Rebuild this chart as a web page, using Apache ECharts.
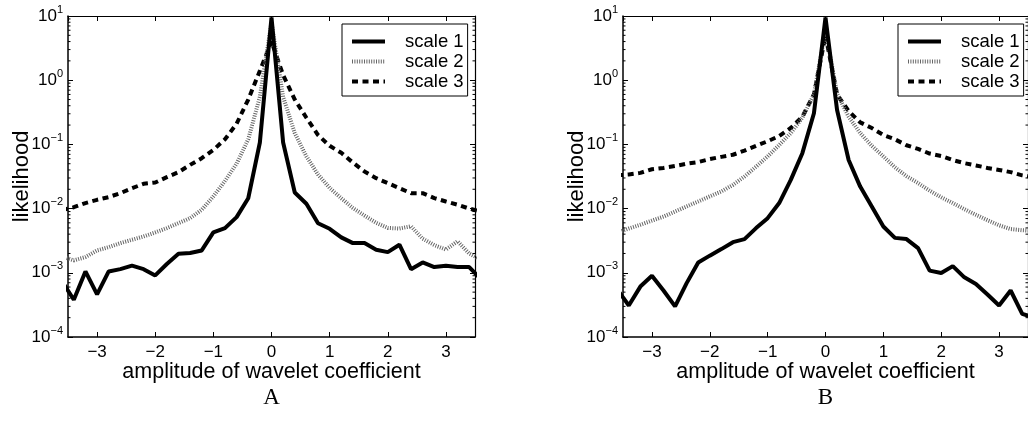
<!DOCTYPE html>
<html><head><meta charset="utf-8">
<script src="https://cdn.jsdelivr.net/npm/echarts@6/dist/echarts.min.js"></script>
<style>html,body{margin:0;padding:0;background:#fff}#c{width:1028px;height:421px}</style>
</head><body><div id="c"></div>
<script>
// ---- data ----
const xs = [-3.6,-3.4,-3.2,-3.0,-2.8,-2.6,-2.4,-2.2,-2.0,-1.8,-1.6,-1.4,-1.2,-1.0,-0.8,-0.6,-0.4,-0.2,0,
            0.2,0.4,0.6,0.8,1.0,1.2,1.4,1.6,1.8,2.0,2.2,2.4,2.6,2.8,3.0,3.2,3.4,3.6];
const seriesNames = ['scale 1','scale 2','scale 3'];
const panelLabels = ['A','B'];
const xAxisTitle = 'amplitude of wavelet coefficient';
const yAxisTitle = 'likelihood';

const aScale1 = [7.3e-4,3.8e-4,1.05e-3,4.6e-4,1.05e-3,1.14e-3,1.29e-3,1.14e-3,9.1e-4,1.37e-3,1.98e-3,2.03e-3,2.23e-3,4.26e-3,4.97e-3,7.37e-3,1.45e-2,0.107,9.5,
                 0.107,0.0178,0.0119,5.9e-3,4.85e-3,3.56e-3,2.9e-3,2.9e-3,2.29e-3,2.1e-3,2.74e-3,1.14e-3,1.45e-3,1.23e-3,1.29e-3,1.23e-3,1.23e-3,8.0e-4];
const aScale2 = [1.8e-3,1.56e-3,1.76e-3,2.23e-3,2.51e-3,2.9e-3,3.27e-3,3.68e-3,4.25e-3,4.97e-3,5.94e-3,7.1e-3,9.6e-3,0.0155,0.027,0.05,0.12,0.55,8.0,
                 0.55,0.15,0.065,0.034,0.021,0.0145,0.0102,0.0078,6.0e-3,5.0e-3,4.9e-3,5.3e-3,3.4e-3,2.7e-3,2.3e-3,3.1e-3,2.0e-3,1.6e-3];
const aScale3 = [9.5e-3,0.0105,0.0122,0.0137,0.0151,0.0174,0.0208,0.0243,0.0255,0.0309,0.0369,0.048,0.061,0.082,0.12,0.21,0.5,1.4,4.0,
                 1.2,0.5,0.26,0.14,0.095,0.074,0.052,0.0378,0.0298,0.0249,0.0208,0.0174,0.0174,0.0146,0.0129,0.0115,0.0100,0.0090];

const bScale1 = [5.5e-4,3.1e-4,6.1e-4,9.0e-4,5.3e-4,3.0e-4,6.9e-4,1.45e-3,1.85e-3,2.34e-3,3.0e-3,3.35e-3,4.97e-3,7.1e-3,0.0122,0.028,0.073,0.305,9.5,
                 0.344,0.057,0.022,0.0108,5.27e-3,3.5e-3,3.35e-3,2.43e-3,1.08e-3,9.9e-4,1.27e-3,8.5e-4,6.7e-4,4.6e-4,3.1e-4,5.3e-4,2.3e-4,2.0e-4];
const bScale2 = [4.2e-3,4.9e-3,5.6e-3,6.5e-3,7.5e-3,9.0e-3,0.0108,0.0129,0.0155,0.0185,0.0234,0.0316,0.045,0.065,0.098,0.15,0.26,0.6,6.0,
                 0.62,0.27,0.15,0.095,0.065,0.044,0.032,0.025,0.019,0.015,0.0122,0.0098,0.008,0.0066,0.0055,0.0048,0.0046,0.0045];
const bScale3 = [0.033,0.034,0.036,0.041,0.043,0.046,0.050,0.053,0.059,0.064,0.069,0.080,0.095,0.112,0.135,0.18,0.27,0.6,5.0,
                 0.6,0.33,0.22,0.18,0.14,0.12,0.097,0.085,0.072,0.066,0.057,0.051,0.047,0.043,0.040,0.037,0.033,0.031];

const xMin = -3.5, xMax = 3.5;
const yMin = 1e-4, yMax = 10;

// ---- styles / layout ----
const FONT = '"Liberation Sans", Arial, Helvetica, sans-serif';
const lineStyles = [
  {color:'#000', width:4, type:'solid'},
  {color:'#666', width:4, type:[1,1.4]},
  {color:'#000', width:4, type:[6,4.5]}
];
const gridPos = [{left:68, top:16, width:407, height:321},{left:623, top:16, width:407, height:321}];
const legendPos = [{left:342, top:24},{left:898, top:24}];

const supMinus = e => (e < 0 ? '\u2212' + (-e) : '' + e);
const yFmt = v => '{b|10}{e|' + supMinus(Math.round(Math.log10(v))) + '}';
const xFmt = v => (v < 0 ? '\u2212' + (-v) : '' + v);

const grids = [], xAxes = [], yAxes = [], series = [], legends = [];
const panels = [[aScale1,aScale2,aScale3],[bScale1,bScale2,bScale3]];
panels.forEach((sets, gi) => {
  grids.push(Object.assign({containLabel:false}, gridPos[gi]));
  xAxes.push({
    type:'value', gridIndex:gi, min:xMin, max:xMax, splitNumber:7, position:'bottom',
    name:xAxisTitle, nameLocation:'middle', nameGap:24, nameMoveOverlap:false,
    nameTextStyle:{fontFamily:FONT, fontSize:21.5, color:'#000'},
    axisLine:{show:true, onZero:false, lineStyle:{color:'#000', width:1.5}},
    axisTick:{show:true, inside:true, length:5, lineStyle:{color:'#000', width:1}},
    axisLabel:{show:true, margin:7, fontFamily:FONT, fontSize:17, color:'#000', formatter:xFmt, showMinLabel:false, showMaxLabel:false},
    splitLine:{show:false}
  });
  xAxes.push({
    type:'value', gridIndex:gi, min:xMin, max:xMax, splitNumber:7, position:'top',
    axisLine:{show:true, onZero:false, lineStyle:{color:'#000', width:1.2}},
    axisTick:{show:true, inside:true, length:5, lineStyle:{color:'#000', width:1}},
    axisLabel:{show:false}, splitLine:{show:false}
  });
  yAxes.push({
    type:'log', logBase:10, gridIndex:gi, min:yMin, max:yMax, splitNumber:5, position:'left',
    name:yAxisTitle, nameLocation:'middle', nameGap:35, nameRotate:90, nameMoveOverlap:false,
    nameTextStyle:{fontFamily:FONT, fontSize:22, color:'#000'},
    axisLine:{show:true, onZero:false, lineStyle:{color:'#000', width:1.5}},
    axisTick:{show:true, inside:true, length:5, lineStyle:{color:'#000', width:1}},
    axisLabel:{show:true, margin:5, formatter:yFmt, color:'#000',
      rich:{b:{fontFamily:FONT, fontSize:17, color:'#000'},
            e:{fontFamily:FONT, fontSize:11, color:'#000', padding:[0,0,13,0]}}},
    splitLine:{show:false}
  });
  yAxes.push({
    type:'log', logBase:10, gridIndex:gi, min:yMin, max:yMax, splitNumber:5, position:'right',
    axisLine:{show:true, onZero:false, lineStyle:{color:'#000', width:1.2}},
    axisTick:{show:true, inside:true, length:5, lineStyle:{color:'#000', width:1}},
    axisLabel:{show:false}, splitLine:{show:false}
  });
  sets.forEach((vals, si) => {
    series.push({
      type:'line', name:seriesNames[si], xAxisIndex:gi*2, yAxisIndex:gi*2,
      data: xs.map((x,i) => [x, vals[i]]),
      showSymbol:false, symbol:'none', clip:true, animation:false,
      lineStyle:lineStyles[si], itemStyle:{color:lineStyles[si].color},
      z: 3 - si
    });
  });
  legends.push({
    left:legendPos[gi].left, top:legendPos[gi].top, orient:'vertical',
    itemWidth:33, itemHeight:14, itemGap:1, padding:[8,4,5,8],
    borderColor:'#000', borderWidth:1, backgroundColor:'#fff',
    selectedMode:false, data:seriesNames,
    itemStyle:{opacity:0, color:'transparent', borderWidth:0},
    lineStyle:{width:4},
    textStyle:{fontFamily:FONT, fontSize:18.5, color:'#000', lineHeight:18, padding:[0,0,0,15]}
  });
});

var chart = echarts.init(document.getElementById('c'), null, {renderer:'canvas'});
chart.setOption({
  animation:false, backgroundColor:'#fff',
  grid:grids, xAxis:xAxes, yAxis:yAxes, series:series, legend:legends
});

// minor log ticks + panel labels, positioned through the axes' own scales
const g = [];
panels.forEach((sets, gi) => {
  const x0 = chart.convertToPixel({xAxisIndex:gi*2}, xMin);
  const x1 = chart.convertToPixel({xAxisIndex:gi*2}, xMax);
  for (let n = -4; n < 1; n++) {
    for (let k = 2; k <= 9; k++) {
      const y = chart.convertToPixel({yAxisIndex:gi*2}, k * Math.pow(10, n));
      g.push({type:'line', shape:{x1:x0, y1:y, x2:x0+2.5, y2:y}, style:{stroke:'#000', lineWidth:1}, silent:true, z:10});
      g.push({type:'line', shape:{x1:x1-2.5, y1:y, x2:x1, y2:y}, style:{stroke:'#000', lineWidth:1}, silent:true, z:10});
    }
  }
  const xc = chart.convertToPixel({xAxisIndex:gi*2}, 0);
  g.push({type:'text', x:xc, y:398, style:{text:panelLabels[gi], fill:'#000',
          font:'23px "Liberation Serif", "DejaVu Serif", serif', textAlign:'center', textVerticalAlign:'middle'}});
});
chart.setOption({graphic:g});
</script>
</body></html>
